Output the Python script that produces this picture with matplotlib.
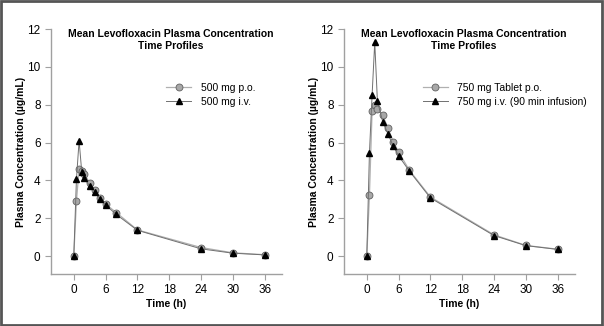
import matplotlib.pyplot as plt
from matplotlib.patches import Rectangle

plt.rcParams['font.family'] = ['Liberation Sans', 'DejaVu Sans']

# tempos de coleta (h)
t = [0, 0.5, 1, 1.5, 2, 3, 4, 5, 6, 8, 12, 24, 30, 36]

# 500 mg
po_500 = [0, 2.9, 4.6, 4.5, 4.35, 3.85, 3.5, 3.05, 2.75, 2.3, 1.38, 0.45, 0.17, 0.07]
iv_500 = [0, 4.05, 6.1, 4.45, 4.1, 3.7, 3.4, 3.0, 2.7, 2.2, 1.36, 0.38, 0.15, 0.06]

# 750 mg
po_750 = [0, 3.2, 7.65, 8.0, 7.75, 7.45, 6.75, 6.05, 5.5, 4.55, 3.12, 1.12, 0.56, 0.36]
iv_750 = [0, 5.45, 8.5, 11.3, 8.2, 7.1, 6.45, 5.8, 5.3, 4.5, 3.07, 1.08, 0.55, 0.35]

panels = [
    (po_500, iv_500, '500 mg p.o.', '500 mg i.v.', 0.0844, 0.46),
    (po_750, iv_750, '750 mg Tablet p.o.', '750 mg i.v. (90 min infusion)', 0.5695, 0.30),
]

fig = plt.figure(figsize=(6.04, 3.26), dpi=100)
fig.patches.append(Rectangle((0.002, 0.003), 0.995, 0.994, transform=fig.transFigure,
                             fill=False, edgecolor='#555555', linewidth=2))

for po, iv, lab_po, lab_iv, left, leg_x in panels:
    ax = fig.add_axes([left, 0.1595, 0.382, 0.7515])
    ax.plot(t, po, color='#b0b0b0', lw=0.9, marker='o', ms=5,
            mfc='#a8a8a8', mec='#606060', mew=0.6, label=lab_po, zorder=2)
    ax.plot(t, iv, color='#707070', lw=0.7, marker='^', ms=4.5,
            mfc='black', mec='black', label=lab_iv, zorder=3)
    ax.set_xlim(-4.3, 39.2)
    ax.set_ylim(-0.95, 12)
    ax.set_xticks(range(0, 37, 6))
    ax.set_yticks(range(0, 13, 2))
    for s in ['top', 'right']:
        ax.spines[s].set_visible(False)
    for s in ['left', 'bottom']:
        ax.spines[s].set_color('#a0a0a0')
        ax.spines[s].set_linewidth(1)
    ax.tick_params(colors='#a0a0a0', labelcolor='black', labelsize=8.5, length=4, width=0.8)
    ax.set_xlabel('Time (h)', fontsize=7.5, fontweight='bold', labelpad=2)
    ax.set_ylabel('Plasma Concentration (µg/mL)', fontsize=7.5, fontweight='bold', labelpad=1)
    ax.text(0.52, 1.0, 'Mean Levofloxacin Plasma Concentration\nTime Profiles',
            transform=ax.transAxes, ha='center', va='top', fontsize=7.5,
            fontweight='bold', linespacing=1.3)
    ax.legend(loc='upper left', bbox_to_anchor=(leg_x, 0.818), frameon=False,
              fontsize=7.5, handlelength=2.4, handletextpad=0.9, labelspacing=0.35)

plt.savefig('out.png', dpi=100)
